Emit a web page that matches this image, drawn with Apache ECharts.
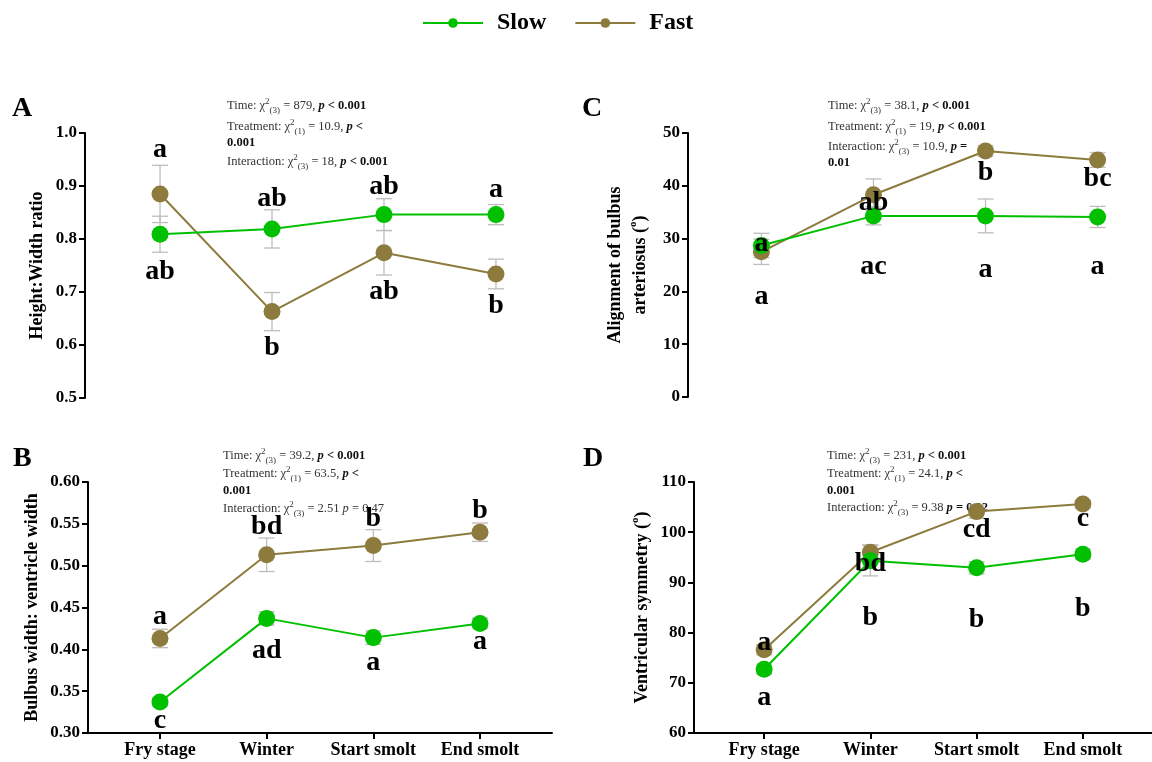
<!DOCTYPE html>
<html>
<head>
<meta charset="utf-8">
<title>Slow vs fast growth – heart morphology</title>
<script src="https://cdn.jsdelivr.net/npm/echarts@6/dist/echarts.min.js"></script>
<style>
  html, body { margin: 0; padding: 0; background: #fff; }
  #chart { width: 1152px; height: 762px; }
</style>
</head>
<body>
<div id="chart"></div>
<script>
const stages = ['Fry stage', 'Winter', 'Start smolt', 'End smolt'];

// A - height:width ratio
const ratioSlow = [0.809, 0.819, 0.846, 0.846];
const ratioSlowSE = [0.034, 0.036, 0.030, 0.019];
const ratioFast = [0.885, 0.663, 0.774, 0.734];
const ratioFastSE = [0.054, 0.036, 0.042, 0.028];
const ratioTicks = [0.5, 0.6, 0.7, 0.8, 0.9, 1.0];
const ratioLettersSlow = ['ab', 'ab', 'ab', 'a'];
const ratioLettersFast = ['a', 'b', 'ab', 'b'];

// B - bulbus width : ventricle width
const bulbusSlow = [0.337, 0.437, 0.414, 0.431];
const bulbusSlowSE = [0.005, 0.008, 0.008, 0.006];
const bulbusFast = [0.413, 0.513, 0.524, 0.540];
const bulbusFastSE = [0.011, 0.020, 0.019, 0.011];
const bulbusTicks = [0.30, 0.35, 0.40, 0.45, 0.50, 0.55, 0.60];
const bulbusLettersSlow = ['c', 'ad', 'a', 'a'];
const bulbusLettersFast = ['a', 'bd', 'b', 'b'];

// C - alignment of bulbus arteriosus
const alignSlow = [28.7, 34.3, 34.3, 34.1];
const alignSlowSE = [2.3, 1.7, 3.2, 2.0];
const alignFast = [27.5, 38.3, 46.6, 44.9];
const alignFastSE = [2.4, 3.0, 1.0, 1.4];
const alignTicks = [0, 10, 20, 30, 40, 50];
const alignLettersSlow = ['a', 'ac', 'a', 'a'];
const alignLettersFast = ['a', 'ab', 'b', 'bc'];

// D - ventricular symmetry
const ventSlow = [72.7, 94.3, 92.9, 95.6];
const ventSlowSE = [1.0, 3.0, 1.2, 1.0];
const ventFast = [76.6, 96.0, 104.1, 105.6];
const ventFastSE = [1.0, 1.5, 1.3, 0.8];
const ventTicks = [60, 70, 80, 90, 100, 110];
const ventLettersSlow = ['a', 'b', 'b', 'b'];
const ventLettersFast = ['a', 'bd', 'cd', 'c'];

const statsA = [
  'Time: χ{sup|2}{sub|(3)} = 879, {bi|p}{b| < 0.001}',
  'Treatment: χ{sup|2}{sub|(1)} = 10.9, {bi|p}{b| <}',
  '{b|0.001}',
  'Interaction: χ{sup|2}{sub|(3)} = 18, {bi|p}{b| < 0.001}'
];
const statsB = [
  'Time: χ{sup|2}{sub|(3)} = 39.2, {bi|p}{b| < 0.001}',
  'Treatment: χ{sup|2}{sub|(1)} = 63.5, {bi|p}{b| <}',
  '{b|0.001}',
  'Interaction: χ{sup|2}{sub|(3)} = 2.51 {i|p} = 0.47'
];
const statsC = [
  'Time: χ{sup|2}{sub|(3)} = 38.1, {bi|p}{b| < 0.001}',
  'Treatment: χ{sup|2}{sub|(1)} = 19, {bi|p}{b| < 0.001}',
  'Interaction: χ{sup|2}{sub|(3)} = 10.9, {bi|p}{b| =}',
  '{b|0.01}'
];
const statsD = [
  'Time: χ{sup|2}{sub|(3)} = 231, {bi|p}{b| < 0.001}',
  'Treatment: χ{sup|2}{sub|(1)} = 24.1, {bi|p}{b| <}',
  '{b|0.001}',
  'Interaction: χ{sup|2}{sub|(3)} = 9.38 {bi|p}{b| = 0.02}'
];

const SERIF = '"Liberation Serif", "Times New Roman", serif';
const GREEN = '#00c000';
const OLIVE = '#8c7b3c';

// layout of the four panels (pixels), kept apart from the data
const panels = [
  { tag: 'A', tagPos: [12, 109], grid: { left: 85, top: 133, width: 486, height: 265 }, pad: 0.67, showX: false,
    ticks: ratioTicks, dec: 1, name: 'Height:Width ratio', nameGap: 35,
    slow: ratioSlow, slowSE: ratioSlowSE, fast: ratioFast, fastSE: ratioFastSE,
    slowL: ratioLettersSlow, fastL: ratioLettersFast,
    slowDy: [38, -30, -28, -25], fastDy: [-44, 36, 39, 32],
    stats: statsA, statsX: 227, statsY: [106, 127, 143, 162] },
  { tag: 'B', tagPos: [13, 459], grid: { left: 88, top: 482, width: 464, height: 251 }, pad: 0.675, showX: true,
    ticks: bulbusTicks, dec: 2, name: 'Bulbus width: ventricle width', nameGap: 43,
    slow: bulbusSlow, slowSE: bulbusSlowSE, fast: bulbusFast, fastSE: bulbusFastSE,
    slowL: bulbusLettersSlow, fastL: bulbusLettersFast,
    slowDy: [19, 32, 25, 18], fastDy: [-22, -28, -27, -21],
    stats: statsB, statsX: 223, statsY: [456, 474, 491, 509] },
  { tag: 'C', tagPos: [582, 109], grid: { left: 688, top: 133, width: 483, height: 264 }, pad: 0.655, showX: false,
    ticks: alignTicks, dec: 0, name: 'Alignment of bulbus\narteriosus ({sup|o})', nameGap: 35,
    slow: alignSlow, slowSE: alignSlowSE, fast: alignFast, fastSE: alignFastSE,
    slowL: alignLettersSlow, fastL: alignLettersFast,
    slowDy: [51, 51, 54, 50], fastDy: [-8, 8, 22, 19],
    stats: statsC, statsX: 828, statsY: [106, 127, 147, 163] },
  { tag: 'D', tagPos: [583, 459], grid: { left: 694, top: 482, width: 459, height: 251 }, pad: 0.66, showX: true,
    ticks: ventTicks, dec: 0, name: 'Ventricular symmetry ({sup|o})', nameGap: 39,
    slow: ventSlow, slowSE: ventSlowSE, fast: ventFast, fastSE: ventFastSE,
    slowL: ventLettersSlow, fastL: ventLettersFast,
    slowDy: [29, 57, 52, 54], fastDy: [-7, 11, 18, 15],
    stats: statsD, statsX: 827, statsY: [456, 474, 491, 508] }
];

const statRich = {
  sup: { fontSize: 9, fontFamily: SERIF, fill: '#333', color: '#333', verticalAlign: 'top', lineHeight: 9 },
  sub: { fontSize: 9, fontFamily: SERIF, fill: '#333', color: '#333', verticalAlign: 'bottom', lineHeight: 9 },
  b: { fontSize: 12.5, fontFamily: SERIF, fontWeight: 'bold', fill: '#111', color: '#111', lineHeight: 18 },
  bi: { fontSize: 12.5, fontFamily: SERIF, fontWeight: 'bold', fontStyle: 'italic', fill: '#111', color: '#111', lineHeight: 18 },
  i: { fontSize: 12.5, fontFamily: SERIF, fontStyle: 'italic', fill: '#333', color: '#333', lineHeight: 18 }
};

function errorBars(idx, means, se) {
  return {
    type: 'custom', xAxisIndex: idx, yAxisIndex: idx, silent: true, z: 1,
    data: means.map((v, i) => [i, v - se[i], v + se[i]]),
    encode: { x: 0, y: [1, 2] },
    renderItem: (params, api) => {
      const top = api.coord([api.value(0), api.value(2)]);
      const bot = api.coord([api.value(0), api.value(1)]);
      const w = 8;
      const style = { stroke: '#bdbdbd', lineWidth: 1.3 };
      return {
        type: 'group',
        children: [
          { type: 'line', shape: { x1: top[0], y1: top[1], x2: bot[0], y2: bot[1] }, style },
          { type: 'line', shape: { x1: top[0] - w, y1: top[1], x2: top[0] + w, y2: top[1] }, style },
          { type: 'line', shape: { x1: bot[0] - w, y1: bot[1], x2: bot[0] + w, y2: bot[1] }, style }
        ]
      };
    }
  };
}

function lineSeries(idx, name, color, means, letters, dy) {
  return {
    type: 'line', name, xAxisIndex: idx, yAxisIndex: idx, z: 3,
    symbol: 'circle', symbolSize: 17,
    itemStyle: { color },
    lineStyle: { color, width: 2 },
    emphasis: { disabled: true },
    label: {
      show: true, position: 'inside', color: '#000',
      fontFamily: SERIF, fontWeight: 'bold', fontSize: 28
    },
    data: means.map((v, i) => ({ value: [i, v], label: { formatter: letters[i], offset: [0, dy[i]] } }))
  };
}

const grids = [], xAxes = [], yAxes = [], series = [], graphics = [];

panels.forEach((p, idx) => {
  grids.push(Object.assign({ containLabel: false, outerBoundsMode: 'none' }, p.grid));

  const axisStyle = { color: '#000', width: 2 };
  xAxes.push({
    gridIndex: idx, type: 'value', min: -p.pad, max: 3 + p.pad,
    axisLine: { show: p.showX, onZero: false, lineStyle: axisStyle },
    axisTick: { show: p.showX, customValues: [0, 1, 2, 3], length: 6, lineStyle: axisStyle },
    axisLabel: {
      show: p.showX, customValues: [0, 1, 2, 3], margin: 8,
      formatter: v => stages[Math.round(v)] || '',
      color: '#000', fontFamily: SERIF, fontWeight: 'bold', fontSize: 18
    },
    splitLine: { show: false }
  });

  const t = p.ticks;
  yAxes.push({
    gridIndex: idx, type: 'value', min: t[0], max: t[t.length - 1],
    interval: +(t[1] - t[0]).toFixed(6),
    axisLine: { show: true, onZero: false, lineStyle: axisStyle },
    axisTick: { show: true, customValues: t, length: 6, lineStyle: axisStyle },
    axisLabel: {
      customValues: t, margin: 8, formatter: v => v.toFixed(p.dec),
      color: '#000', fontFamily: SERIF, fontWeight: 'bold', fontSize: 17
    },
    splitLine: { show: false },
    name: p.name, nameLocation: 'middle', nameGap: p.nameGap,
    nameTextStyle: {
      color: '#000', fontFamily: SERIF, fontWeight: 'bold', fontSize: 18, lineHeight: 25,
      rich: { sup: { color: '#000', fontFamily: SERIF, fontWeight: 'bold', fontSize: 11, verticalAlign: 'top', lineHeight: 12 } }
    }
  });

  series.push(errorBars(idx, p.fast, p.fastSE));
  series.push(errorBars(idx, p.slow, p.slowSE));
  series.push(lineSeries(idx, 'Fast', OLIVE, p.fast, p.fastL, p.fastDy));
  series.push(lineSeries(idx, 'Slow', GREEN, p.slow, p.slowL, p.slowDy));

  graphics.push({
    type: 'text', x: p.tagPos[0], y: p.tagPos[1],
    style: { text: p.tag, fill: '#000', font: 'bold 28px ' + SERIF, verticalAlign: 'middle', align: 'left' }
  });
  p.stats.forEach((line, k) => {
    graphics.push({
      type: 'text', x: p.statsX, y: p.statsY[k], silent: true,
      style: {
        text: line, fill: '#333', fontSize: 12.5, fontFamily: SERIF, lineHeight: 18,
        verticalAlign: 'middle', align: 'left', rich: statRich
      }
    });
  });
});

const chart = echarts.init(document.getElementById('chart'));
chart.setOption({
  animation: false,
  backgroundColor: '#fff',
  legend: {
    data: ['Slow', 'Fast'], top: 6, left: 417,
    itemWidth: 60, itemHeight: 12, itemGap: 28,
    textStyle: { color: '#000', fontFamily: SERIF, fontWeight: 'bold', fontSize: 24, padding: [0, 0, 0, 9] }
  },
  grid: grids,
  xAxis: xAxes,
  yAxis: yAxes,
  series,
  graphic: graphics
});
</script>
</body>
</html>
